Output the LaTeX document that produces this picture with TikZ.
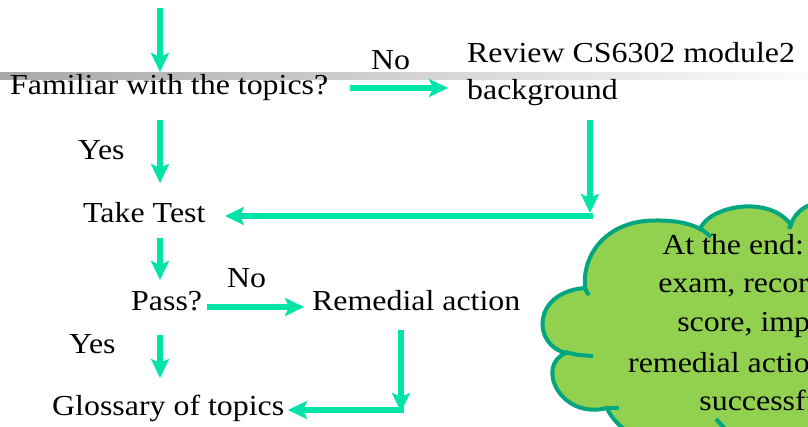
\documentclass[tikz,border=0pt]{standalone}
\usepackage{fontspec}
\setmainfont{Liberation Serif}[FakeStretch=1.1]
\usetikzlibrary{arrows.meta}
\definecolor{flow}{RGB}{0,228,168}
\definecolor{cloudline}{RGB}{0,166,128}
\definecolor{cloudfill}{RGB}{146,208,80}
\definecolor{bandleft}{RGB}{168,168,168}
\definecolor{bandright}{RGB}{252,252,252}
\tikzset{
  lbl/.style={inner sep=0pt, anchor=base west, font=\fontsize{29}{35}\selectfont},
  cloudtxt/.style={inner sep=0pt, anchor=base, font=\fontsize{29}{35}\selectfont},
  flowarrow/.style={draw=flow, line width=6pt, -{Stealth[length=19pt,width=18pt,inset=4pt]}},
  flowline/.style={draw=flow, line width=6pt},
  cloudstub/.style={draw=cloudline, line width=4pt},
}
\begin{document}
\begin{tikzpicture}[x=1pt,y=-1pt]
\useasboundingbox (0,0) rectangle (808,427);
\clip (0,0) rectangle (808,427);

% grey title rule
\shade[left color=bandleft, right color=bandright] (0,72.5) rectangle (808,79.5);

% flow texts
\node[lbl] (fam)  at (10,95)   {Familiar with the topics?};
\node[lbl] (no1)  at (371,70)  {No};
\node[lbl] (rev1) at (467,63)  {Review CS6302 module2};
\node[lbl] (rev2) at (467,100) {background};
\node[lbl] (yes1) at (78,160)  {Yes};
\node[lbl] (take) at (83,223)  {Take Test};
\node[lbl] (pass) at (131,311) {Pass?};
\node[lbl] (no2)  at (227,288) {No};
\node[lbl] (rem)  at (312,311) {Remedial action};
\node[lbl] (yes2) at (69,353)  {Yes};
\node[lbl] (glos) at (52,415)  {Glossary of topics};

% connector end points
\coordinate (inTop)   at (160,8);
\coordinate (famIn)   at (160,72);
\coordinate (famNoA)  at (350,88);
\coordinate (famNoB)  at (448,88);
\coordinate (famYesA) at (160,120);
\coordinate (famYesB) at (160,183);
\coordinate (revA)    at (590,120);
\coordinate (revB)    at (590,213);
\coordinate (revC)    at (593,216);
\coordinate (takeIn)  at (225,216);
\coordinate (takeA)   at (160,238);
\coordinate (takeB)   at (160,280);
\coordinate (passNoA) at (207,307);
\coordinate (passNoB) at (304,307);
\coordinate (passYA)  at (160,335);
\coordinate (passYB)  at (160,378);
\coordinate (remA)    at (401,330);
\coordinate (remB)    at (401,412);
\coordinate (remC)    at (404,410);
\coordinate (glosIn)  at (288,410);

% connectors
\draw[flowarrow] (inTop) -- (famIn);
\draw[flowarrow] (famNoA) -- (famNoB);
\draw[flowarrow] (famYesA) -- (famYesB);
\draw[flowarrow] (revC) -- (takeIn);
\draw[flowarrow] (revA) -- (revB);
\draw[flowarrow] (takeA) -- (takeB);
\draw[flowarrow] (passNoA) -- (passNoB);
\draw[flowarrow] (passYA) -- (passYB);
\draw[flowarrow] (remC) -- (glosIn);
\draw[flowarrow] (remA) -- (remB);

% cloud callout, lobe by lobe
\filldraw[fill=cloudfill, draw=cloudline, line width=4pt]
  (585,288) .. controls (582,255) and (605,225) .. (645,221)
            .. controls (670,219) and (690,223) .. (700,229)
            .. controls (710,205) and (770,195) .. (791,225)
            .. controls (795,210) and (810,202) .. (830,200)
  -- (900,200) -- (900,480) -- (724,480) -- (724,440)
            .. controls (690,470) and (620,440) .. (607,408)
            .. controls (560,420) and (535,365) .. (566,353)
            .. controls (532,345) and (532,292) .. (585,288)
  -- cycle;
% inner hooks where the lobes meet
\draw[cloudstub] (585,287) .. controls (586,291) .. (589,295);
\draw[cloudstub] (698,227) .. controls (704,231) .. (711,237);
\draw[cloudstub] (791,223) -- (789,229);
\draw[cloudstub] (565,352) .. controls (577,355) .. (593,356);
\draw[cloudstub] (606,408) .. controls (612,408) .. (619,408);
\draw[cloudstub] (716,419) -- (728,432);

\node[cloudtxt] (cl1) at (765,255) {At the end: take};
\node[cloudtxt] (cl2) at (765,293) {exam, record the};
\node[cloudtxt] (cl3) at (765,332) {score, impose};
\node[cloudtxt] (cl4) at (765,372) {remedial action if not};
\node[cloudtxt] (cl5) at (765,410) {successful};
\end{tikzpicture}
\end{document}
